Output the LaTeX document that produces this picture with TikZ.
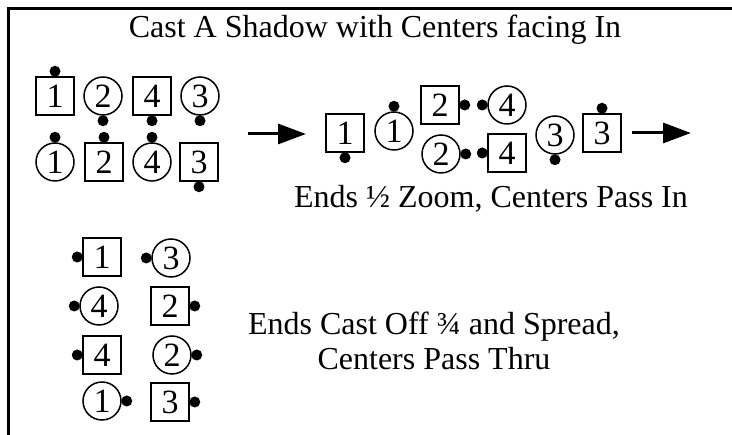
\documentclass[tikz,border=0pt]{standalone}
\usepackage{fontspec}
\setmainfont{Liberation Serif}
\usetikzlibrary{arrows.meta}

\begin{document}
\begin{tikzpicture}[x=1pt,y=-1pt,
  every node/.style={font=\fontsize{32}{35}\selectfont},
  boy/.style={draw, line width=1.5pt, minimum size=38pt, inner sep=0pt, font=\fontsize{34}{35}\selectfont},
  girl/.style={draw, circle, line width=1.5pt, minimum size=38pt, inner sep=0pt, font=\fontsize{34}{35}\selectfont},
  step arrow/.style={line width=3pt, -{Triangle[length=28pt,width=20pt]}}]
\useasboundingbox (0,0) rectangle (732,435);
\draw[line width=3pt] (8.5,435)--(8.5,8.5)--(732,8.5);

\node[anchor=base] (title) at (375,38) {Cast A Shadow with Centers facing In};

% starting formation
\node[boy] (a1) at (55,96) {1};
\node[girl] (ag2) at (103,96) {2};
\node[boy] (a4) at (152,96) {4};
\node[girl] (ag3) at (200,96) {3};
\node[girl] (ag1) at (55,162) {1};
\node[boy] (a2) at (104,162) {2};
\node[girl] (ag4) at (152,162) {4};
\node[boy] (a3) at (199,162) {3};
\fill (a1.north) ++(0,-5) circle (5.5pt);
\fill (ag2.south) ++(0,5) circle (5.5pt);
\fill (a4.south) ++(0,5) circle (5.5pt);
\fill (ag3.south) ++(0,5) circle (5.5pt);
\fill (ag1.north) ++(0,-5) circle (5.5pt);
\fill (a2.north) ++(0,-5) circle (5.5pt);
\fill (ag4.north) ++(0,-5) circle (5.5pt);
\fill (a3.south) ++(0,5) circle (5.5pt);

\coordinate (in1) at (248,134);
\coordinate (in2) at (306,134);
\draw[step arrow] (in1)--(in2);

% ends 1/2 zoom, centers pass in
\node[boy] (b1) at (345,133) {1};
\node[girl] (bg1) at (394,131) {1};
\node[boy] (b2) at (440,105) {2};
\node[girl] (bg4) at (507,105) {4};
\node[girl] (bg2) at (441,154) {2};
\node[boy] (b4) at (507,153) {4};
\node[girl] (bg3) at (555,135) {3};
\node[boy] (b3) at (602,133) {3};
\fill (b1.south) ++(0,5) circle (5.5pt);
\fill (bg1.north) ++(0,-5) circle (5.5pt);
\fill (b2.east) ++(5,0) circle (5.5pt);
\fill (bg4.west) ++(-5,0) circle (5.5pt);
\fill (bg2.east) ++(5,0) circle (5.5pt);
\fill (b4.west) ++(-5,0) circle (5.5pt);
\fill (bg3.south) ++(0,5) circle (5.5pt);
\fill (b3.north) ++(0,-5) circle (5.5pt);

\coordinate (out1) at (632,133);
\coordinate (out2) at (691,133);
\draw[step arrow] (out1)--(out2);

\node[anchor=base] (zoom) at (491,208) {Ends ½ Zoom, Centers Pass In};

% ends cast off 3/4 and spread
\node[boy] (c1) at (102,257) {1};
\node[girl] (cg3) at (171,258) {3};
\node[girl] (cg4) at (99,306) {4};
\node[boy] (c2) at (170,306) {2};
\node[boy] (c4) at (102,355) {4};
\node[girl] (cg2) at (172,355) {2};
\node[girl] (cg1) at (102,401) {1};
\node[boy] (c3) at (170,402) {3};
\fill (c1.west) ++(-5,0) circle (5.5pt);
\fill (cg3.west) ++(-5,0) circle (5.5pt);
\fill (cg4.west) ++(-5,0) circle (5.5pt);
\fill (c2.east) ++(5,0) circle (5.5pt);
\fill (c4.west) ++(-5,0) circle (5.5pt);
\fill (cg2.east) ++(5,0) circle (5.5pt);
\fill (cg1.east) ++(5,0) circle (5.5pt);
\fill (c3.east) ++(5,0) circle (5.5pt);

\node[anchor=base, align=center] (spread) at (434,370) {Ends Cast Off ¾ and Spread,\\Centers Pass Thru};
\end{tikzpicture}
\end{document}
